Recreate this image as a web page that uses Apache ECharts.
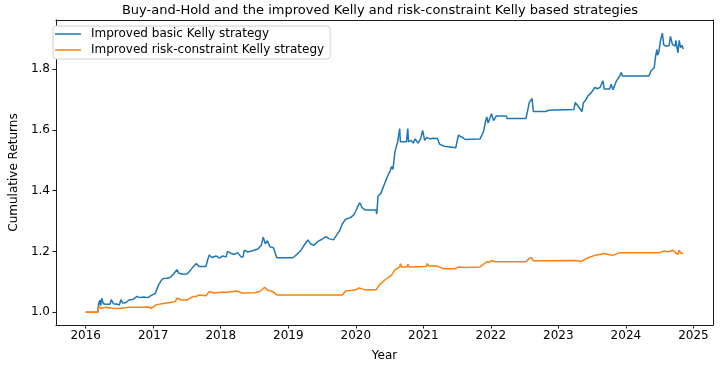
<!DOCTYPE html>
<html>
<head>
<meta charset="utf-8">
<script src="https://cdn.jsdelivr.net/npm/echarts@6/dist/echarts.min.js"></script>
<style>html,body{margin:0;padding:0;background:#fff}#c{width:720px;height:367px}</style>
</head>
<body>
<div id="c"></div>
<script>
// Decimal years and cumulative returns
var basicX = [2016.00,2016.18,2016.19,2016.21,2016.22,2016.24,2016.26,2016.30,2016.36,2016.38,2016.41,2016.47,2016.50,2016.52,2016.55,2016.60,2016.64,2016.70,2016.76,2016.80,2016.86,2016.92,2016.96,2017.03,2017.05,2017.08,2017.12,2017.15,2017.20,2017.25,2017.30,2017.35,2017.38,2017.44,2017.50,2017.56,2017.59,2017.64,2017.68,2017.78,2017.81,2017.83,2017.87,2017.93,2017.98,2018.03,2018.08,2018.10,2018.14,2018.20,2018.25,2018.30,2018.33,2018.35,2018.40,2018.48,2018.55,2018.60,2018.63,2018.66,2018.69,2018.73,2018.78,2018.83,2019.07,2019.10,2019.15,2019.19,2019.24,2019.29,2019.33,2019.38,2019.44,2019.50,2019.56,2019.60,2019.67,2019.72,2019.76,2019.80,2019.85,2019.92,2019.97,2020.00,2020.04,2020.06,2020.09,2020.11,2020.14,2020.30,2020.31,2020.33,2020.37,2020.43,2020.48,2020.51,2020.53,2020.55,2020.58,2020.62,2020.65,2020.66,2020.75,2020.77,2020.78,2020.82,2020.85,2020.88,2020.92,2020.96,2020.99,2021.02,2021.05,2021.10,2021.14,2021.21,2021.24,2021.31,2021.33,2021.48,2021.52,2021.55,2021.58,2021.62,2021.84,2021.89,2021.92,2021.94,2021.96,2022.01,2022.04,2022.08,2022.23,2022.24,2022.52,2022.54,2022.57,2022.61,2022.63,2022.81,2022.83,2022.86,2023.23,2023.25,2023.29,2023.31,2023.35,2023.37,2023.40,2023.44,2023.49,2023.54,2023.58,2023.62,2023.66,2023.68,2023.76,2023.78,2023.81,2023.86,2023.91,2023.93,2023.95,2024.34,2024.37,2024.42,2024.44,2024.46,2024.47,2024.49,2024.51,2024.54,2024.56,2024.59,2024.64,2024.66,2024.69,2024.73,2024.74,2024.77,2024.79,2024.81,2024.83,2024.85];
var basicY = [1.000,1.000,1.026,1.040,1.022,1.046,1.028,1.026,1.026,1.042,1.028,1.026,1.024,1.041,1.030,1.032,1.040,1.042,1.052,1.048,1.050,1.048,1.054,1.062,1.068,1.090,1.105,1.111,1.112,1.114,1.125,1.140,1.128,1.125,1.126,1.140,1.149,1.160,1.150,1.150,1.175,1.188,1.180,1.185,1.178,1.185,1.182,1.200,1.195,1.190,1.196,1.182,1.182,1.204,1.198,1.203,1.208,1.220,1.247,1.225,1.235,1.215,1.212,1.179,1.179,1.185,1.195,1.204,1.222,1.238,1.225,1.220,1.233,1.240,1.249,1.242,1.238,1.255,1.268,1.290,1.306,1.311,1.320,1.333,1.353,1.360,1.345,1.350,1.336,1.336,1.323,1.382,1.390,1.425,1.452,1.465,1.479,1.470,1.528,1.561,1.604,1.561,1.561,1.604,1.560,1.565,1.556,1.570,1.556,1.570,1.598,1.565,1.575,1.570,1.572,1.571,1.553,1.546,1.541,1.541,1.582,1.578,1.575,1.568,1.570,1.593,1.626,1.642,1.622,1.653,1.630,1.645,1.645,1.637,1.637,1.658,1.690,1.703,1.660,1.660,1.655,1.664,1.667,1.690,1.678,1.682,1.660,1.688,1.696,1.712,1.723,1.739,1.735,1.740,1.761,1.734,1.734,1.750,1.732,1.761,1.777,1.788,1.777,1.777,1.793,1.804,1.842,1.864,1.845,1.858,1.891,1.918,1.880,1.875,1.877,1.907,1.880,1.875,1.894,1.853,1.894,1.870,1.878,1.866];

var riskX = [2016.00,2016.18,2016.19,2016.21,2016.23,2016.30,2016.40,2016.50,2016.64,2016.80,2016.93,2016.97,2017.05,2017.15,2017.30,2017.33,2017.35,2017.42,2017.50,2017.59,2017.64,2017.68,2017.78,2017.83,2017.90,2018.00,2018.10,2018.23,2018.32,2018.50,2018.58,2018.65,2018.70,2018.77,2018.83,2019.80,2019.85,2019.95,2020.00,2020.05,2020.10,2020.14,2020.30,2020.35,2020.43,2020.53,2020.58,2020.65,2020.66,2020.68,2020.76,2020.77,2020.79,2021.04,2021.06,2021.08,2021.20,2021.27,2021.30,2021.48,2021.52,2021.62,2021.84,2021.94,2021.98,2022.01,2022.06,2022.52,2022.57,2022.60,2022.63,2022.81,2022.83,2022.86,2023.23,2023.25,2023.35,2023.40,2023.45,2023.54,2023.62,2023.66,2023.68,2023.76,2023.81,2023.86,2023.91,2024.50,2024.56,2024.62,2024.70,2024.73,2024.77,2024.79,2024.81,2024.85];
var riskY = [1.000,1.000,1.019,1.025,1.013,1.016,1.013,1.012,1.016,1.016,1.017,1.013,1.025,1.029,1.034,1.036,1.046,1.040,1.040,1.052,1.052,1.057,1.054,1.068,1.063,1.066,1.066,1.070,1.063,1.064,1.068,1.082,1.072,1.068,1.057,1.057,1.070,1.072,1.074,1.080,1.076,1.074,1.074,1.090,1.106,1.122,1.139,1.149,1.160,1.149,1.149,1.158,1.149,1.150,1.160,1.152,1.152,1.146,1.143,1.143,1.149,1.147,1.149,1.166,1.164,1.170,1.166,1.166,1.177,1.180,1.169,1.169,1.166,1.169,1.170,1.175,1.168,1.175,1.180,1.187,1.190,1.193,1.189,1.189,1.187,1.192,1.196,1.196,1.201,1.199,1.204,1.196,1.190,1.204,1.195,1.193];

var xTicks = [2016,2017,2018,2019,2020,2021,2022,2023,2024,2025];
var yTicks = [1.0,1.2,1.4,1.6,1.8];
var seriesNames = ['Improved basic Kelly strategy','Improved risk-constraint Kelly strategy'];
var titleText = 'Buy-and-Hold and the improved Kelly and risk-constraint Kelly based strategies';

function zip(xs, ys){ return xs.map(function(x,i){ return [x, ys[i]]; }); }

var FONT = 'DejaVu Sans';
var XMIN = 2015.56, XMAX = 2025.29, YMIN = 0.958, YMAX = 1.961;
var axisLineStyle = {color: '#000', width: 0.9};
var chart = echarts.init(document.getElementById('c'), null, {renderer:'canvas'});
chart.setOption({
  animation: false,
  backgroundColor: '#fff',
  title: {
    text: titleText, left: 380, top: 4, textAlign: 'center', padding: 0,
    textStyle: {fontFamily: FONT, fontSize: 13, fontWeight: 'normal', color: '#000'}
  },
  legend: {
    orient: 'vertical', left: 53, top: 26,
    backgroundColor: '#fff', borderColor: '#d0d0d0', borderWidth: 1, borderRadius: 3,
    padding: [2, 6, 3, 2], itemGap: 4, itemWidth: 26, itemHeight: 14,
    icon: 'path://M0,6.25 L26,6.25 L26,7.75 L0,7.75 Z',
    textStyle: {fontFamily: FONT, fontSize: 12, color: '#000', padding: [0,0,0,5]},
    data: seriesNames
  },
  grid: {left: 46, right: 7, top: 20, bottom: 38},
  xAxis: [{
    type: 'value', min: XMIN, max: XMAX,
    name: 'Year', nameLocation: 'middle', nameGap: 25,
    nameTextStyle: {fontFamily: FONT, fontSize: 12, color: '#000'},
    axisLine: {show: true, lineStyle: axisLineStyle},
    axisTick: {show: true, customValues: xTicks, length: 3.5, lineStyle: axisLineStyle},
    axisLabel: {customValues: xTicks, fontFamily: FONT, fontSize: 12, color: '#000', margin: 5, formatter: function(v){return String(Math.round(v));}},
    splitLine: {show: false}
  }, {
    type: 'value', position: 'top', min: XMIN, max: XMAX,
    axisLine: {show: true, lineStyle: axisLineStyle},
    axisTick: {show: false}, axisLabel: {show: false}, splitLine: {show: false}
  }],
  yAxis: [{
    type: 'value', min: YMIN, max: YMAX,
    name: 'Cumulative Returns', nameLocation: 'middle', nameGap: 33,
    nameTextStyle: {fontFamily: FONT, fontSize: 12, color: '#000'},
    axisLine: {show: true, lineStyle: axisLineStyle},
    axisTick: {show: true, customValues: yTicks, length: 3.5, lineStyle: axisLineStyle},
    axisLabel: {customValues: yTicks, fontFamily: FONT, fontSize: 12, color: '#000', margin: 6, formatter: function(v){return v.toFixed(1);}},
    splitLine: {show: false}
  }, {
    type: 'value', position: 'right', min: YMIN, max: YMAX,
    axisLine: {show: true, lineStyle: axisLineStyle},
    axisTick: {show: false}, axisLabel: {show: false}, splitLine: {show: false}
  }],
  series: [
    {name: seriesNames[0], type: 'line', data: zip(basicX, basicY), showSymbol: false, symbol: 'none', color: '#1f77b4', lineStyle: {width: 1.5, color: '#1f77b4'}},
    {name: seriesNames[1], type: 'line', data: zip(riskX, riskY), showSymbol: false, symbol: 'none', color: '#ff7f0e', lineStyle: {width: 1.5, color: '#ff7f0e'}}
  ]
});
</script>
</body>
</html>
